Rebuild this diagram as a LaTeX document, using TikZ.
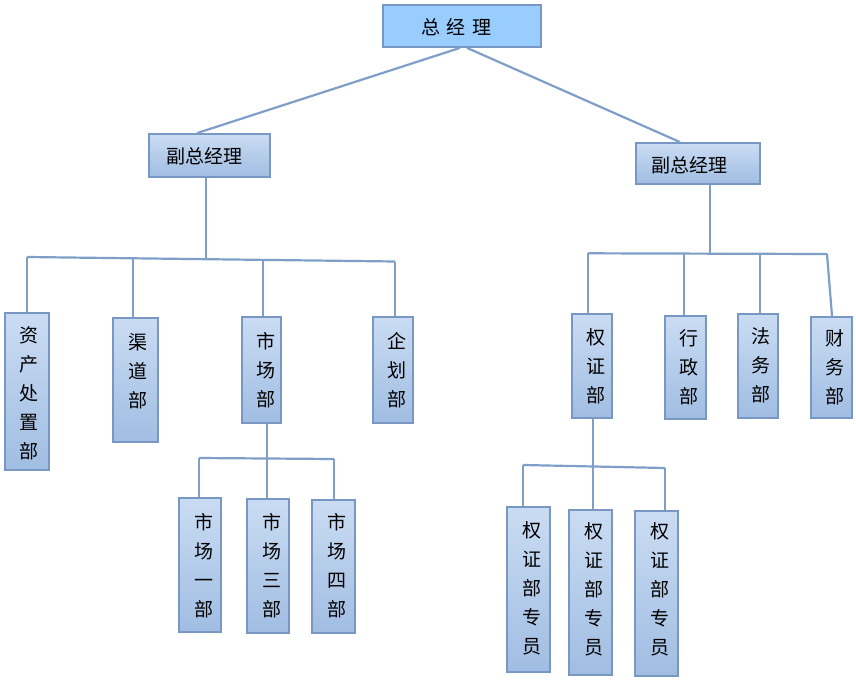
\documentclass[tikz,border=0pt]{standalone}
\usepackage{fontspec}
\setmainfont{Noto Sans CJK SC}
\usetikzlibrary{calc}
\definecolor{linec}{HTML}{7F9FC8}
\definecolor{bordc}{HTML}{7897C3}
\definecolor{topc}{HTML}{CADCF3}
\definecolor{botc}{HTML}{A0BDE2}
\definecolor{headc}{HTML}{99CCFF}
\tikzset{
  conn/.style={draw=linec, line width=2.2pt},
  dept/.style={draw=bordc, line width=1.8pt, top color=topc, bottom color=botc, inner sep=0pt},
  head/.style={draw=bordc, line width=1.8pt, fill=headc, inner sep=0pt},
  vtext/.style={anchor=north, inner sep=0pt, align=center, font=\fontsize{19}{29}\selectfont},
  htext/.style={inner sep=0pt, font=\fontsize{19}{22}\selectfont},
}
\newcommand\mybx[6]{%
  \node[#6, minimum width={(#4-#2)*1pt}, minimum height={(#5-#3)*1pt}] (#1) at ({(#2+#4)/2},{(#3+#5)/2}) {};}
\begin{document}
\begin{tikzpicture}[x=1pt,y=-1pt]
\useasboundingbox (0,0) rectangle (856,690);
\fill[white] (0,0) rectangle (856,690);
% boxes
\mybx{gm}{383}{5}{541}{47}{head}
\mybx{vpL}{149}{134}{270}{177}{dept}
\mybx{vpR}{636}{143}{760}{184}{dept}
\mybx{zc}{5}{313}{49}{470}{dept}
\mybx{qd}{113}{318}{158}{442}{dept}
\mybx{sc}{242}{317}{281}{423}{dept}
\mybx{qh}{373}{317}{413}{423}{dept}
\mybx{qz}{572}{314}{612}{418}{dept}
\mybx{xz}{665}{316}{706}{419}{dept}
\mybx{fw}{738}{314}{778}{418}{dept}
\mybx{cw}{811}{317}{852}{418}{dept}
\mybx{sa}{179}{498}{221}{632}{dept}
\mybx{sb}{247}{499}{289}{633}{dept}
\mybx{sd}{312}{500}{355}{633}{dept}
\mybx{za}{507}{507}{550}{672}{dept}
\mybx{zb}{569}{510}{612}{675}{dept}
\mybx{zd}{635}{511}{678}{676}{dept}
% texts
\node[htext] (tgm) at ($(gm.center)+(-5.5,1)$) {总\hspace{7pt}经\hspace{7pt}理};
\node[htext] (tvpL) at ($(vpL.center)+(-5.5,1)$) {副总经理};
\node[htext] (tvpR) at ($(vpR.center)+(-8.5,1.5)$) {副总经理};
\node[vtext] (tzc) at ($(zc.north)+(2,14)$) {资\\产\\处\\置\\部};
\node[vtext] (tqd) at ($(qd.north)+(2,16)$) {渠\\道\\部};
\node[vtext] (tsc) at ($(sc.north)+(4,16)$) {市\\场\\部};
\node[vtext] (tqh) at ($(qh.north)+(4,16)$) {企\\划\\部};
\node[vtext] (tqz) at ($(qz.north)+(4,15)$) {权\\证\\部};
\node[vtext] (txz) at ($(xz.north)+(3.5,14)$) {行\\政\\部};
\node[vtext] (tfw) at ($(fw.north)+(3,14)$) {法\\务\\部};
\node[vtext] (tcw) at ($(cw.north)+(3,13)$) {财\\务\\部};
\node[vtext] (tsa) at ($(sa.north)+(3.5,16)$) {市\\场\\一\\部};
\node[vtext] (tsb) at ($(sb.north)+(3.5,15)$) {市\\场\\三\\部};
\node[vtext] (tsd) at ($(sd.north)+(3.5,14)$) {市\\场\\四\\部};
\node[vtext] (tza) at ($(za.north)+(3,15)$) {权\\证\\部\\专\\员};
\node[vtext] (tzb) at ($(zb.north)+(3,13)$) {权\\证\\部\\专\\员};
\node[vtext] (tzd) at ($(zd.north)+(3,12)$) {权\\证\\部\\专\\员};
% top connectors
\draw[conn] ([xshift=-2pt]gm.south) -- ([xshift=-12.5pt]vpL.north);
\draw[conn] ([xshift=5pt]gm.south) -- ([xshift=-18pt]vpR.north);
% left level
\coordinate (j1) at (27,257);
\coordinate (j2) at (133,258.3);
\coordinate (jL) at (206,259.2);
\coordinate (j3) at (263,259.9);
\coordinate (j4) at (395,261.5);
\draw[conn] (j1) -- (j4);
\draw[conn] (vpL.south -| jL) -- (jL);
\draw[conn] (j1) -- (j1 |- zc.north);
\draw[conn] (j2) -- (j2 |- qd.north);
\draw[conn] (j3) -- (j3 |- sc.north);
\draw[conn] (j4) -- (j4 |- qh.north);
% right level
\coordinate (k1) at (588,253.3);
\coordinate (k2) at (684,253.5);
\coordinate (jR) at (710,253.5);
\coordinate (k3) at (760,253.7);
\coordinate (k4) at (827,254);
\draw[conn] (k1) -- (k4);
\draw[conn] (vpR.south -| jR) -- (jR);
\draw[conn] (k1) -- (k1 |- qz.north);
\draw[conn] (k2) -- (k2 |- xz.north);
\draw[conn] (k3) -- (k3 |- fw.north);
\draw[conn] (k4) -- ([xshift=0.5pt]cw.north);
% market subtree
\coordinate (m1) at (199,458);
\coordinate (m2) at (267,458.5);
\coordinate (m3) at (334,459);
\draw[conn] (m1) -- (m3);
\draw[conn] (sc.south -| m2) -- (m2);
\draw[conn] (m1) -- (m1 |- sa.north);
\draw[conn] (m2) -- (m2 |- sb.north);
\draw[conn] (m3) -- (m3 |- sd.north);
% rights subtree
\coordinate (p1) at (523,465);
\coordinate (p2) at (593,466.5);
\coordinate (p3) at (665,468);
\draw[conn] (p1) -- (p3);
\draw[conn] (qz.south -| p2) -- (p2);
\draw[conn] (p1) -- (p1 |- za.north);
\draw[conn] (p2) -- (p2 |- zb.north);
\draw[conn] (p3) -- (p3 |- zd.north);
\end{tikzpicture}
\end{document}
